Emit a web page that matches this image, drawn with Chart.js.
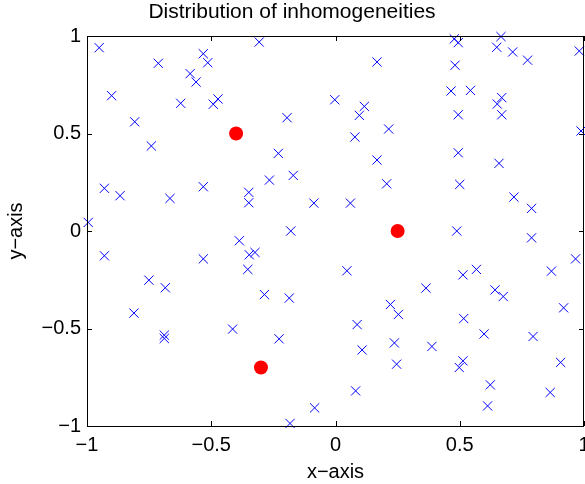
<!DOCTYPE html>
<html>
<head>
<meta charset="utf-8">
<script src="https://cdn.jsdelivr.net/npm/chart.js@4/dist/chart.umd.min.js"></script>
<style>
  html, body { margin: 0; padding: 0; background: #fff; }
  #grafico { display: block; }
</style>
</head>
<body>
<canvas id="grafico" width="585" height="484"></canvas>
<script>
// inhomogeneity positions (blue crosses)
const inhomX = [
  -0.951, -0.901, -0.713, -0.532, -0.514, -0.585, -0.561, -0.623, -0.492, -0.473,
  -0.808, -0.741, -0.930, -0.867, -0.666, -0.532, -0.995,
  -0.307, 0.167, -0.003, 0.116, 0.096, -0.195, 0.214, 0.078, -0.230, 0.167,
  -0.170, -0.266, 0.206, -0.349, -0.349, -0.087, 0.060, -0.180,
  0.478, 0.494, 0.666, 0.649, 0.713, 0.773, 0.981, 0.481, 0.465, 0.543,
  0.669, 0.651, 0.494, 0.669, 0.988, 0.494, 0.658, 0.500, 0.718, 0.789, 0.488,
  -0.930, -0.751, -0.685, -0.811, -0.532, -0.689, -0.689, -0.414, -0.387,
  -0.347, -0.324, -0.353, 0.046, -0.286, -0.186, 0.221, 0.253, 0.087, -0.227,
  0.107, 0.237, 0.246, 0.081, -0.084, -0.183,
  0.789, 0.966, 0.567, 0.513, 0.869, 0.364, 0.642, 0.675, 0.918, 0.516,
  0.598, 0.795, 0.388, 0.513, 0.498, 0.906, 0.623, 0.864, 0.612
];
const inhomY = [
  0.940, 0.694, 0.860, 0.909, 0.863, 0.807, 0.764, 0.655, 0.650, 0.677,
  0.560, 0.436, 0.219, 0.181, 0.167, 0.227, 0.044,
  0.969, 0.867, 0.673, 0.639, 0.593, 0.581, 0.523, 0.482, 0.398, 0.364,
  0.285, 0.261, 0.242, 0.198, 0.145, 0.143, 0.143, 0.000,
  0.985, 0.966, 0.997, 0.942, 0.918, 0.876, 0.923, 0.850, 0.718, 0.721,
  0.684, 0.651, 0.596, 0.596, 0.513, 0.401, 0.347, 0.239, 0.174, 0.116, 0.000,
  -0.127, -0.252, -0.291, -0.421, -0.143, -0.534, -0.551, -0.503, -0.050,
  -0.122, -0.110, -0.197, -0.204, -0.326, -0.344, -0.377, -0.428, -0.480, -0.553,
  -0.610, -0.574, -0.683, -0.820, -0.907, -0.987,
  -0.035, -0.143, -0.197, -0.225, -0.206, -0.293, -0.302, -0.336, -0.394, -0.449,
  -0.528, -0.541, -0.592, -0.666, -0.700, -0.674, -0.789, -0.828, -0.897
];

// sources (red dots)
const sourceX = [-0.4, 0.25, -0.3];
const sourceY = [0.5, 0.0, -0.7];

// axis ticks
const xTicks = [-1, -0.5, 0, 0.5, 1];
const yTicks = [-1, -0.5, 0, 0.5, 1];

const fonte = 'Liberation Sans, Arial, Helvetica, sans-serif';

function rotulo(v) {
  return String(v).replace('-', '\u2212');
}

// caixa e marcas internas no estilo MATLAB
const caixa = {
  id: 'caixa',
  afterDatasetsDraw(chart) {
    const ctx = chart.ctx;
    const a = chart.chartArea;
    const sx = chart.scales.x;
    const sy = chart.scales.y;
    ctx.save();
    ctx.strokeStyle = '#000';
    ctx.lineWidth = 1;
    ctx.beginPath();
    xTicks.forEach(v => {
      const p = Math.round(sx.getPixelForValue(v)) + 0.5;
      ctx.moveTo(p, a.bottom); ctx.lineTo(p, a.bottom - 5);
      ctx.moveTo(p, a.top); ctx.lineTo(p, a.top + 5);
    });
    yTicks.forEach(v => {
      const p = Math.round(sy.getPixelForValue(v)) + 0.5;
      ctx.moveTo(a.left, p); ctx.lineTo(a.left + 5, p);
      ctx.moveTo(a.right, p); ctx.lineTo(a.right - 5, p);
    });
    ctx.stroke();
    ctx.strokeRect(Math.round(a.left) + 0.5, Math.round(a.top) + 0.5,
      Math.round(a.right - a.left) - 1, Math.round(a.bottom - a.top));
    ctx.restore();
  }
};

new Chart(document.getElementById('grafico'), {
  type: 'scatter',
  data: {
    datasets: [
      {
        label: 'inhomogeneities',
        data: inhomX.map((x, i) => ({ x: x, y: inhomY[i] })),
        pointStyle: 'crossRot',
        pointRadius: 6.5,
        borderColor: '#0000ff',
        backgroundColor: '#0000ff',
        pointBorderColor: '#0000ff',
        pointBackgroundColor: '#0000ff',
        pointBorderWidth: 1,
        clip: false
      },
      {
        label: 'sources',
        data: sourceX.map((x, i) => ({ x: x, y: sourceY[i] })),
        pointStyle: 'circle',
        pointRadius: 7,
        borderColor: '#ff0000',
        backgroundColor: '#ff0000',
        pointBackgroundColor: '#ff0000',
        pointBorderColor: '#ff0000',
        pointBorderWidth: 0,
        clip: false
      }
    ]
  },
  options: {
    responsive: false,
    animation: false,
    events: [],
    layout: { autoPadding: false, padding: { left: 0, right: 1, top: 0, bottom: 0 } },
    plugins: {
      legend: { display: false },
      tooltip: { enabled: false },
      title: {
        display: true,
        text: 'Distribution of inhomogeneities',
        color: '#000',
        font: { family: fonte, size: 21, weight: 'normal', lineHeight: 1.2 },
        padding: { top: 0, bottom: 10.8 }
      }
    },
    scales: {
      x: {
        type: 'linear',
        min: -1,
        max: 1,
        afterFit(scale) {
          scale.height = 58;
          scale.paddingLeft = 0;
          scale.paddingRight = 0;
        },
        afterBuildTicks(scale) { scale.ticks = xTicks.map(v => ({ value: v })); },
        grid: { display: false, drawTicks: false },
        border: { display: false },
        ticks: {
          color: '#000',
          padding: 7,
          maxRotation: 0,
          font: { family: fonte, size: 20 },
          callback: v => rotulo(v)
        },
        title: {
          display: true,
          text: 'x\u2212axis',
          color: '#000',
          padding: { top: 3, bottom: 0 },
          font: { family: fonte, size: 20 }
        }
      },
      y: {
        type: 'linear',
        min: -1,
        max: 1,
        afterFit(scale) {
          scale.width = 87;
          scale.paddingTop = 0;
          scale.paddingBottom = 0;
        },
        afterBuildTicks(scale) { scale.ticks = yTicks.map(v => ({ value: v })); },
        grid: { display: false, drawTicks: false },
        border: { display: false },
        ticks: {
          color: '#000',
          padding: 6,
          font: { family: fonte, size: 20 },
          callback: v => rotulo(v)
        },
        title: {
          display: true,
          text: 'y\u2212axis',
          color: '#000',
          padding: { top: 4.5, bottom: 0 },
          font: { family: fonte, size: 20 }
        }
      }
    }
  },
  plugins: [caixa]
});
</script>
</body>
</html>
